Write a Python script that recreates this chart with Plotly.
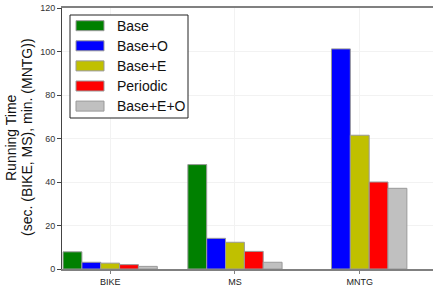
import plotly.graph_objects as go

categories = ["BIKE", "MS", "MNTG"]
series_names = ["Base", "Base+O", "Base+E", "Periodic", "Base+E+O"]
base = [7.9, 48.0, None]
base_o = [3.1, 14.1, 101.2]
base_e = [2.7, 12.3, 61.5]
periodic = [2.0, 8.1, 40.0]
base_e_o = [1.2, 3.1, 37.1]
colors = ["#008000", "#0000ff", "#c0c000", "#ff0000", "#c0c0c0"]
y_ticks = [0, 20, 40, 60, 80, 100, 120]
y_title_lines = ["Running Time", "(sec. (BIKE, MS), min. (MNTG))"]

values = [base, base_o, base_e, periodic, base_e_o]

W, H = 433, 286
ML, MR, MT, MB = 62, 0, 8, 17
PW, PH = W - ML - MR, H - MT - MB


def px_x(p):
    return (p - ML) / PW


def px_y(p):
    return (H - MB - p) / PH


fig = go.Figure()
for name, vals, col in zip(series_names, values, colors):
    fig.add_trace(go.Bar(
        x=categories, y=vals, name=name, showlegend=False,
        marker=dict(color=col, line=dict(color="#999999", width=1)),
    ))

font = "Liberation Sans, Arial, sans-serif"

# Custom legend (box, wide swatches, labels)
shapes = [dict(type="rect", xref="paper", yref="paper",
               x0=px_x(70), x1=px_x(188), y0=px_y(118), y1=px_y(15),
               line=dict(color="#222222", width=1), fillcolor="white", layer="above")]
annotations = []
for i, (name, col) in enumerate(zip(series_names, colors)):
    cy = 25.7 + i * 20.1
    shapes.append(dict(type="rect", xref="paper", yref="paper",
                       x0=px_x(76), x1=px_x(104), y0=px_y(cy + 5), y1=px_y(cy - 5),
                       line=dict(color="#999999", width=1), fillcolor=col, layer="above"))
    annotations.append(dict(xref="paper", yref="paper", x=px_x(115), y=px_y(cy),
                            xanchor="left", yanchor="middle", showarrow=False,
                            text=name, font=dict(size=14, family=font, color="#111111")))

# y-axis title as two rotated lines
for txt, cx in zip(y_title_lines, [10.5, 26.5]):
    annotations.append(dict(xref="paper", yref="paper", x=px_x(cx), y=px_y(137.5),
                            xanchor="center", yanchor="middle", showarrow=False,
                            textangle=-90, text=txt,
                            font=dict(size=14, family=font, color="#111111")))

fig.update_layout(
    width=W, height=H,
    margin=dict(l=ML, r=MR, t=MT, b=MB),
    paper_bgcolor="white", plot_bgcolor="white",
    barmode="group", bargap=0.245, bargroupgap=0,
    font=dict(family=font, color="#222222"),
    showlegend=False,
    shapes=shapes, annotations=annotations,
    xaxis=dict(
        range=[-0.386, 2.587], automargin=False,
        showgrid=True, gridcolor="#f2f2f2", gridwidth=1,
        showline=True, linecolor="#808080", linewidth=1.5, mirror=True,
        ticks="outside", ticklen=3, tickcolor="#808080",
        tickfont=dict(size=9, family=font, color="#222222"),
    ),
    yaxis=dict(
        range=[0, 120], tickvals=y_ticks, automargin=False,
        showgrid=True, gridcolor="#f2f2f2", gridwidth=1,
        showline=True, linecolor="#444444", linewidth=1,
        ticks="outside", ticklen=4, tickcolor="#444444",
        tickfont=dict(size=9, family=font, color="#333333"),
        zeroline=False,
    ),
)

fig.write_html("out.html", config={"displayModeBar": False},
               post_script="document.body.style.margin='0';document.body.style.overflow='hidden';")
